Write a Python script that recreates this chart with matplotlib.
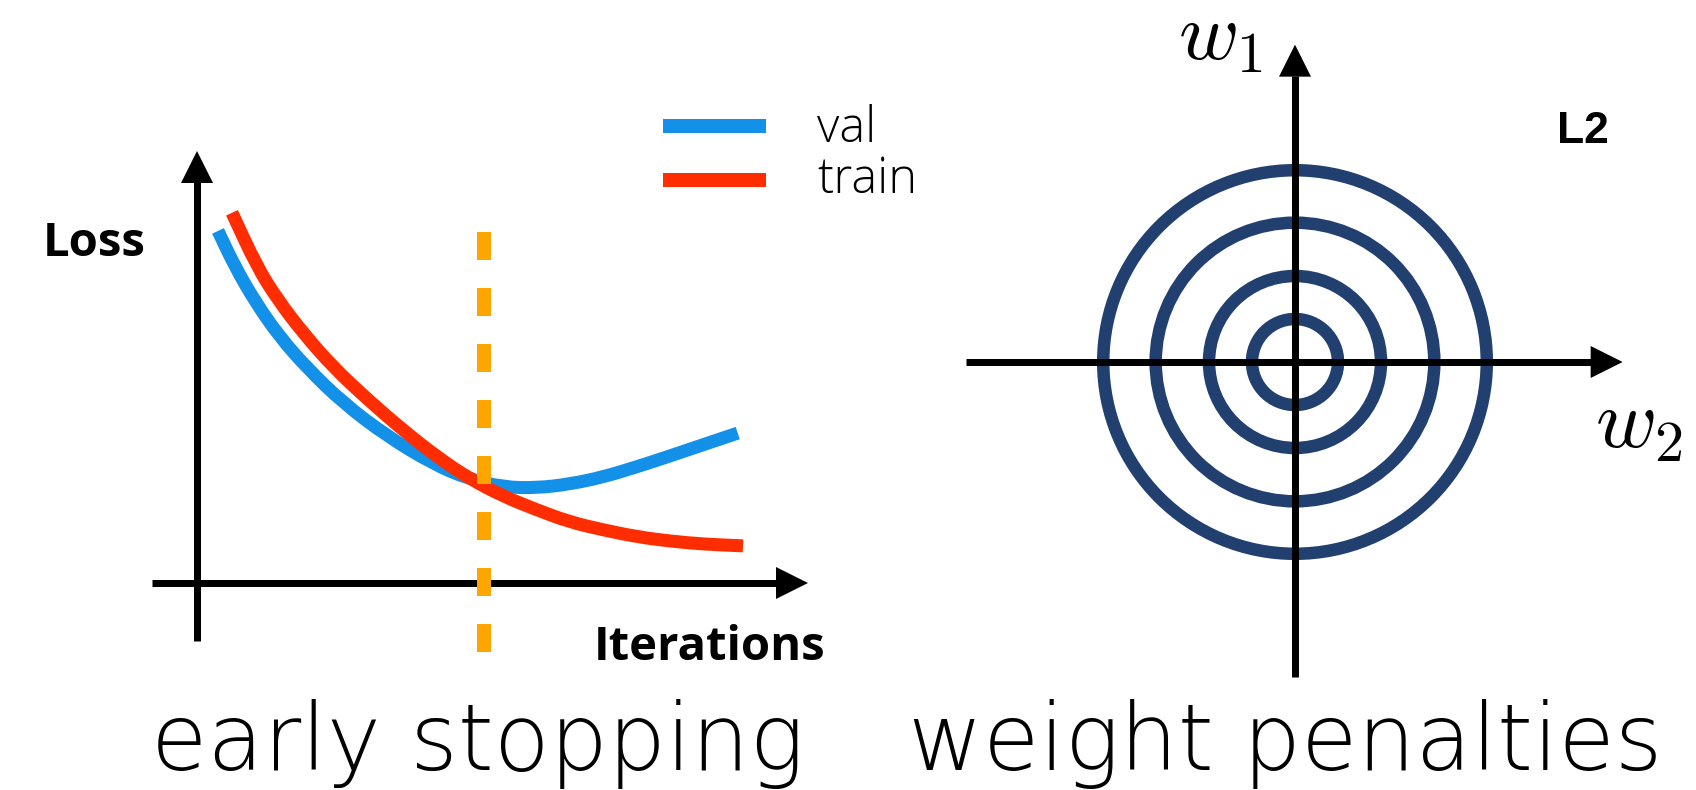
import matplotlib
matplotlib.use("Agg")
import matplotlib.pyplot as plt
from matplotlib.patches import Circle, Polygon, PathPatch
from matplotlib.path import Path
import numpy as np

# ---- early stopping: loss vs. iterations ----
iters_val = [3.44, 6.22, 9.66, 13.58, 18.0, 23.9, 31.1, 38.6, 44.4, 50.1,
             55.6, 61.0, 66.4, 72.0, 77.4, 82.6, 88.5]
loss_val = [8.15, 7.32, 6.48, 5.69, 4.98, 4.17, 3.40, 2.76, 2.41, 2.22,
            2.20, 2.29, 2.45, 2.69, 2.94, 3.19, 3.47]
iters_train = [5.73, 9.82, 13.26, 17.35, 22.26, 27.99, 34.04, 39.77, 44.68,
               50.08, 55.65, 61.05, 66.45, 72.01, 77.41, 82.82, 89.36]
loss_train = [8.57, 7.32, 6.55, 5.79, 5.00, 4.24, 3.50, 2.87, 2.41, 2.01,
              1.69, 1.41, 1.23, 1.07, 0.97, 0.90, 0.86]
stop_iter = 47.0
series_labels = ["val", "train"]

# ---- weight penalties: L2 contour radii ----
l2_radii = [0.5, 1.0, 1.62, 2.23]

W, H, DPI = 1696, 790, 100
PT = 72.0 / DPI  # points per pixel

BLUE = "#1390E8"
RED = "#FF2D00"
ORANGE = "#FFA500"
NAVY = "#213F6F"
SANS = "Open Sans"

plt.rcParams["mathtext.fontset"] = "cm"
fig = plt.figure(figsize=(W / DPI, H / DPI), dpi=DPI)


def px_axes(x0, y0, x1, y1, ox, oy, sx, sy):
    """Axes spanning a pixel box; (ox, oy) is the data origin, sx/sy px per unit."""
    ax = fig.add_axes([x0 / W, 1 - y1 / H, (x1 - x0) / W, (y1 - y0) / H])
    ax.set_xlim((x0 - ox) / sx, (x1 - ox) / sx)
    ax.set_ylim((oy - y1) / sy, (oy - y0) / sy)
    ax.set_axis_off()
    return ax


def axis_arrow(ax, start, tip, head=32, lw_px=7):
    """Black axis line with a filled triangular head at `tip`."""
    t = ax.transData
    p0 = np.array(t.transform(start))
    p1 = np.array(t.transform(tip))
    d = (p1 - p0) / np.linalg.norm(p1 - p0)
    n = np.array([-d[1], d[0]])
    base = p1 - d * head
    inv = t.inverted()
    shaft_end = inv.transform(base + d * 1.0)
    ax.plot([start[0], shaft_end[0]], [start[1], shaft_end[1]], color="black",
            lw=lw_px * PT, solid_capstyle="butt", zorder=3)
    tri = inv.transform(np.array([p1, base + n * head / 2, base - n * head / 2]))
    ax.add_patch(Polygon(tri, closed=True, fc="black", ec="none", zorder=3))


def smooth_curve(ax, xs, ys, color, lw_px, z):
    """Quadratic-Bezier path through the midpoints of the sampled points."""
    pts = np.column_stack([xs, ys])
    mids = (pts[:-1] + pts[1:]) / 2
    verts = [pts[0], mids[0]]
    codes = [Path.MOVETO, Path.LINETO]
    for i in range(1, len(pts) - 1):
        verts += [pts[i], mids[i]]
        codes += [Path.CURVE3, Path.CURVE3]
    verts.append(pts[-1])
    codes.append(Path.LINETO)
    ax.add_patch(PathPatch(Path(verts, codes), fill=False, ec=color,
                           lw=lw_px * PT, capstyle="butt", joinstyle="round",
                           zorder=z))


# ---------------- left panel ----------------
ax1 = px_axes(0, 0, 900, 700, ox=197, oy=583, sx=6.11, sy=43.2)

axis_arrow(ax1, (0, -1.34), (0, 10.0))
axis_arrow(ax1, (-7.4, 0), (100.0, 0))

smooth_curve(ax1, iters_val, loss_val, BLUE, 13, 4)
smooth_curve(ax1, iters_train, loss_train, RED, 13, 5)
ax1.plot([stop_iter, stop_iter], [8.13, -1.597], color=ORANGE, lw=14 * PT,
         linestyle=(0, (2, 2)), dash_capstyle="butt", zorder=6)

# legend
for col, yy in zip([BLUE, RED], [10.58, 9.32]):
    ax1.plot([76.3, 93.1], [yy, yy], color=col, lw=14 * PT, solid_capstyle="butt")
ax1.text(101.5, 10.21, series_labels[0], fontsize=35, family=SANS,
         fontweight="light", ha="left", va="baseline")
ax1.text(101.5, 9.03, series_labels[1], fontsize=35, family=SANS,
         fontweight="light", ha="left", va="baseline")

ax1.text(-25.2, 7.57, "Loss", fontsize=34, family=SANS, fontweight="bold",
         ha="left", va="baseline")
ax1.text(65.0, -1.78, "Iterations", fontsize=34, family=SANS,
         fontweight="bold", ha="left", va="baseline")

# ---------------- right panel ----------------
ax2 = px_axes(900, 0, 1696, 700, ox=1295, oy=362, sx=86, sy=86)

for r in l2_radii:
    ax2.add_patch(Circle((0, 0), r, fill=False, ec=NAVY, lw=12.5 * PT, zorder=2))

axis_arrow(ax2, (-3.82, 0), (3.81, 0))
axis_arrow(ax2, (0, -3.66), (0, 3.69))

ax2.text(-1.36, 3.52, r"$w_1$", fontsize=59, ha="left", va="baseline")
ax2.text(3.49, -1.0, r"$w_2$", fontsize=60, ha="left", va="baseline")
ax2.text(3.05, 2.55, "L2", fontsize=32, family="Liberation Sans",
         fontweight="bold", ha="left", va="baseline")

# ---------------- captions ----------------
fig.text(477.5 / W, 1 - 770 / H, "early stopping", fontsize=66,
         family="DejaVu Sans", fontweight="light", ha="center", va="baseline")
fig.text(1285.5 / W, 1 - 770 / H, "weight penalties", fontsize=66,
         family="DejaVu Sans", fontweight="light", ha="center", va="baseline")

fig.savefig("out.png", dpi=DPI, facecolor="white")
